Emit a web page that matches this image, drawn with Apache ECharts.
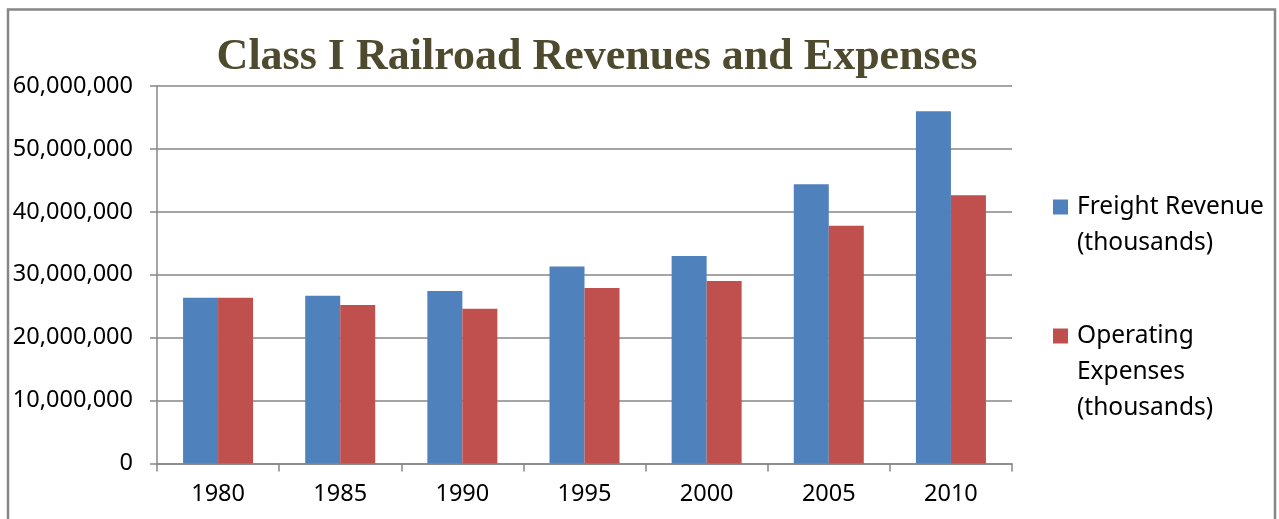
<!DOCTYPE html>
<html>
<head>
<meta charset="utf-8">
<script src="https://cdn.jsdelivr.net/npm/echarts@6/dist/echarts.min.js"></script>
<style>
  html, body { margin: 0; padding: 0; background: #fff; }
  #main { width: 1279px; height: 519px; }
</style>
</head>
<body>
<div id="main"></div>
<script>
// data
var years = ['1980', '1985', '1990', '1995', '2000', '2005', '2010'];
var freightRevenue = [26350000, 26650000, 27400000, 31300000, 33000000, 44400000, 56000000];
var operatingExpenses = [26350000, 25200000, 24600000, 27900000, 29000000, 37800000, 42650000];
var yTicks = [0, 10000000, 20000000, 30000000, 40000000, 50000000, 60000000];
var seriesNames = ['Freight Revenue\n(thousands)', 'Operating\nExpenses\n(thousands)'];

var chart = echarts.init(document.getElementById('main'));

var axisGray = '#878787';
var font = 'Noto Sans';

function fmt(v) {
  return String(v).replace(/\B(?=(\d{3})+(?!\d))/g, ',');
}

// legend text is centred on the icon, so pad with blank lines on top
// to get the first line level with the square (like excel does)
function legendText(name) {
  var n = name.split('\n').length;
  var pad = '';
  for (var i = 1; i < n; i++) pad += '\n';
  return pad + name;
}

var legendBase = {
  orient: 'vertical',
  left: 1053,
  padding: 0,
  icon: 'rect',
  itemWidth: 15,
  itemHeight: 15,
  formatter: legendText,
  textStyle: { fontFamily: font, fontSize: 24.5, lineHeight: 36, color: '#000', padding: [0, 0, 0, 4] }
};

var option = {
  backgroundColor: '#fff',
  animation: false,
  title: {
    text: 'Class I Railroad Revenues and Expenses',
    left: 592,
    textAlign: 'center',
    top: 31,
    textStyle: {
      fontFamily: 'Liberation Serif',
      fontWeight: 'bold',
      fontSize: 44,
      color: '#4E4A2D'
    }
  },
  graphic: [{
    type: 'rect',
    shape: { x: 8, y: 9.5, width: 1267, height: 540 },
    style: { fill: 'none', stroke: axisGray, lineWidth: 2.5 },
    silent: true
  }],
  legend: [
    Object.assign({}, legendBase, { data: [seriesNames[0]], top: 153 }),
    Object.assign({}, legendBase, { data: [seriesNames[1]], top: 246 })
  ],
  grid: {
    left: 157,
    right: 267,
    top: 86,
    bottom: 55.5,
    containLabel: false
  },
  xAxis: {
    type: 'category',
    data: years,
    axisLine: { lineStyle: { color: axisGray, width: 1.5 } },
    axisTick: { show: true, length: 8, alignWithLabel: false, lineStyle: { color: axisGray, width: 1.5 } },
    axisLabel: { fontFamily: font, fontSize: 23.5, color: '#000', margin: 19 }
  },
  yAxis: {
    type: 'value',
    min: yTicks[0],
    max: yTicks[yTicks.length - 1],
    interval: yTicks[1] - yTicks[0],
    axisLine: { show: true, lineStyle: { color: axisGray, width: 1.5 } },
    axisTick: { show: true, length: 7, lineStyle: { color: axisGray, width: 1.5 } },
    splitLine: { lineStyle: { color: axisGray, width: 1.5 } },
    axisLabel: {
      fontFamily: font, fontSize: 23.5, color: '#000', margin: 24,
      formatter: function (v) { return fmt(v); }
    }
  },
  series: [{
    name: seriesNames[0],
    type: 'bar',
    data: freightRevenue,
    barWidth: 35,
    barGap: '0%',
    itemStyle: { color: '#4F81BD' }
  }, {
    name: seriesNames[1],
    type: 'bar',
    data: operatingExpenses,
    barWidth: 35,
    barGap: '0%',
    itemStyle: { color: '#C0504D' }
  }]
};

chart.setOption(option);
</script>
</body>
</html>
